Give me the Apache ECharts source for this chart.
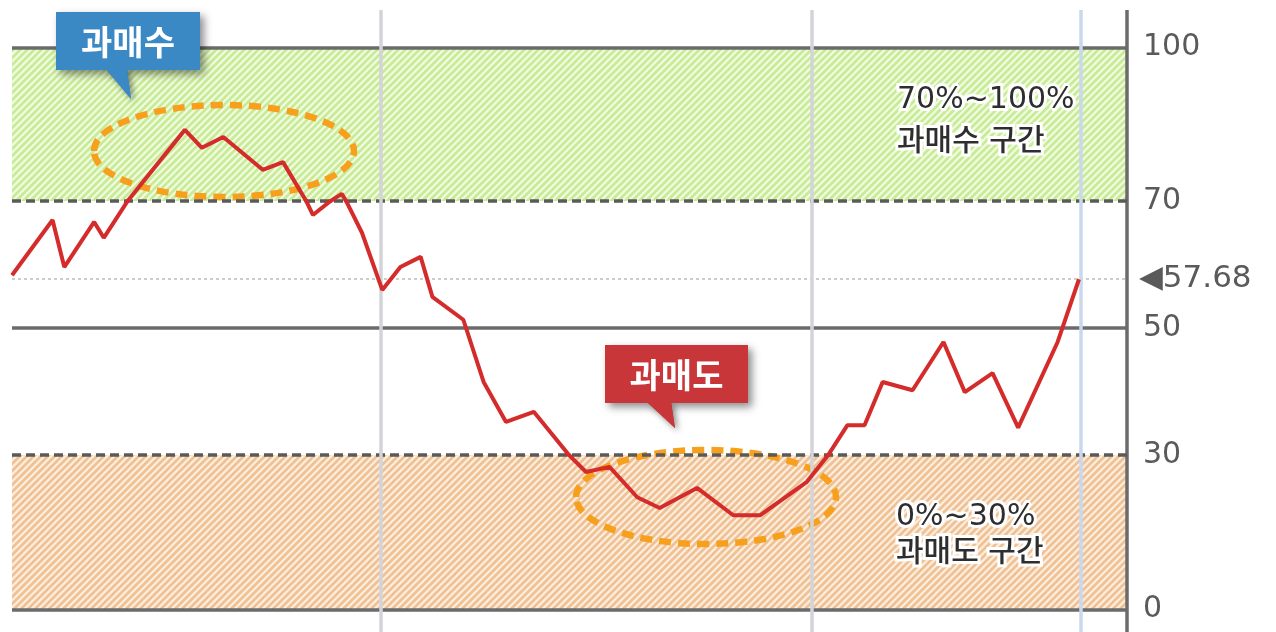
<!DOCTYPE html>
<html><head><meta charset="utf-8">
<script src="https://cdn.jsdelivr.net/npm/echarts@6/dist/echarts.min.js"></script>
<style>html,body{margin:0;padding:0;background:#fff}#c{width:1276px;height:632px}</style>
</head><body><div id="c"></div>
<script>
// ---- data ----
const dayIndex = [0, 3.8, 4.9, 7.7, 8.6, 16.2, 17.8, 19.8, 23.5, 25.4, 28.2, 30.9, 32.8, 34.7, 36.4, 38.3, 39.4, 42.3, 44.2, 46.3, 48.9, 53.8, 56.0, 58.6, 60.7, 64.2, 67.6, 70.1, 74.5, 78.3, 79.9, 81.6, 84.4, 87.3, 89.3, 91.9, 94.3, 98.0, 100];
const rsiValues = [58.3, 67.0, 59.6, 66.7, 64.2, 83.9, 80.4, 82.5, 76.1, 77.6, 67.8, 71.4, 65.0, 56.0, 59.6, 61.2, 54.9, 51.3, 41.5, 35.2, 36.8, 26.7, 27.7, 21.8, 19.7, 23.6, 18.3, 18.3, 24.8, 34.7, 34.7, 41.5, 40.2, 47.8, 39.9, 42.9, 34.3, 47.8, 57.68];
const monthDividers = [34.6, 75.0, 100.2];
const overboughtZone = [70, 100];
const oversoldZone = [0, 30];
const yTickLabels = [0, 30, 50, 70, 100];
const overboughtText = ['70%~100%', '과매수 구간'];
const oversoldText = ['0%~30%', '과매도 구간'];
const calloutHigh = '과매수';
const calloutLow = '과매도';
const xMax = 104.5;

const lastValue = rsiValues[rsiValues.length - 1];
const lineData = dayIndex.map((d, i) => [d, rsiValues[i]]);

function hatch(bg, fg) {
  const s = 7;
  const c = document.createElement('canvas');
  c.width = s; c.height = s;
  const g = c.getContext('2d');
  g.fillStyle = bg; g.fillRect(0, 0, s, s);
  g.strokeStyle = fg; g.lineWidth = 2.8;
  g.beginPath();
  for (let k = -1; k <= 1; k++) {
    g.moveTo(k * s - 1, s + 1);
    g.lineTo(k * s + s + 1, -1);
  }
  g.stroke();
  return c;
}
const greenPat = { image: hatch('#f2fbe4', '#c8ec96'), repeat: 'repeat' };
const orangePat = { image: hatch('#fdeedd', '#efc196'), repeat: 'repeat' };

const L = 12, R = 149;
const grids = [
  { left: L, right: R, top: 47.5, height: 153.5 },  // 70..100
  { left: L, right: R, top: 201, height: 254 },     // 30..70
  { left: L, right: R, top: 455, height: 154.5 },   // 0..30
  { left: L, right: R, top: 10, height: 622 }       // full height for dividers
];
const labelStyle = { color: '#5a5a5a', fontSize: 30, fontFamily: 'DejaVu Sans', margin: 16 };
const xAxes = grids.map((g, i) => ({ type: 'value', gridIndex: i, min: 0, max: xMax, show: false }));
const yAxes = [
  { type: 'value', gridIndex: 0, position: 'right', min: overboughtZone[0], max: overboughtZone[1], interval: 30,
    axisLine: { show: false }, axisTick: { show: false }, splitLine: { show: false }, axisLabel: labelStyle },
  { type: 'value', gridIndex: 1, position: 'right', min: oversoldZone[1], max: overboughtZone[0], interval: 20,
    axisLine: { show: false }, axisTick: { show: false }, splitLine: { show: false },
    axisLabel: Object.assign({ showMinLabel: false, showMaxLabel: false }, labelStyle) },
  { type: 'value', gridIndex: 2, position: 'right', min: oversoldZone[0], max: oversoldZone[1], interval: 30,
    axisLine: { show: false }, axisTick: { show: false }, splitLine: { show: false }, axisLabel: labelStyle },
  { type: 'value', gridIndex: 3, min: 0, max: 1, show: false }
];

const solid = { color: '#6b6b6b', width: 3.5, type: 'solid' };
const dashed = { color: '#5a5a5a', width: 3.5, type: [9, 5] };
const none = ['none', 'none'];

const series = [
  // hatch zones
  { type: 'line', xAxisIndex: 0, yAxisIndex: 0, data: [], z: 1, silent: true,
    markArea: { silent: true, itemStyle: { color: greenPat }, data: [[{ yAxis: overboughtZone[0] }, { yAxis: overboughtZone[1] }]] } },
  { type: 'line', xAxisIndex: 2, yAxisIndex: 2, data: [], z: 1, silent: true,
    markArea: { silent: true, itemStyle: { color: orangePat }, data: [[{ yAxis: oversoldZone[0] }, { yAxis: oversoldZone[1] }]] } },
  // horizontal level lines
  { type: 'line', xAxisIndex: 0, yAxisIndex: 0, data: [], z: 2, silent: true, clip: false,
    markLine: { silent: true, symbol: none, label: { show: false }, data: [{ yAxis: yTickLabels[4], lineStyle: solid }] } },
  { type: 'line', xAxisIndex: 1, yAxisIndex: 1, data: [], z: 2, silent: true, clip: false,
    markLine: { silent: true, symbol: none, label: { show: false }, data: [
      { yAxis: yTickLabels[3], lineStyle: dashed },
      { yAxis: yTickLabels[2], lineStyle: solid },
      { yAxis: yTickLabels[1], lineStyle: dashed },
      { yAxis: lastValue, lineStyle: { color: '#bdbdbd', width: 1.5, type: [3, 3] },
        label: { show: true, position: 'end', distance: 12, formatter: '◀' + lastValue,
                 color: '#5a5a5a', fontSize: 31, fontFamily: 'DejaVu Sans' } }
    ] } },
  { type: 'line', xAxisIndex: 2, yAxisIndex: 2, data: [], z: 2, silent: true, clip: false,
    markLine: { silent: true, symbol: none, label: { show: false }, data: [{ yAxis: yTickLabels[0], lineStyle: solid }] } },
  // vertical dividers
  { type: 'line', xAxisIndex: 3, yAxisIndex: 3, data: [], z: 3, silent: true, clip: false,
    markLine: { silent: true, symbol: none, label: { show: false }, data: monthDividers.map((x, i) => ({
      xAxis: x, lineStyle: { color: i === monthDividers.length - 1 ? '#c9d8ec' : '#d3d3da', width: 3.5, type: 'solid' } })) } }
];
// the RSI line, drawn once per vertical band so each band uses its own scale
for (let i = 0; i < 3; i++) {
  series.push({ type: 'line', xAxisIndex: i, yAxisIndex: i, data: lineData, z: 10, clip: true,
    symbol: 'none', silent: true, lineStyle: { color: '#d42b2b', width: 4 }, animation: false });
}

const ellStyle = { fill: null, stroke: '#f7a01e', lineWidth: 6.5, lineDash: [12, 7] };
const haloText = (txt, x, y) => ({ type: 'text', z: 20, style: { text: txt, x: x, y: y, verticalAlign: 'middle',
  font: '500 30px "DejaVu Sans", "Noto Sans CJK KR"', fill: '#2e2e2e', stroke: '#fff', lineWidth: 6, strokeFirst: true } });
const callout = (txt, x, y, w, h, tail, color) => ({
  type: 'group', z: 20, children: [
    { type: 'polygon', z: 20, shape: { points: tail }, style: { fill: color, shadowBlur: 6, shadowOffsetX: 3, shadowOffsetY: 3, shadowColor: 'rgba(0,0,0,0.45)' } },
    { type: 'rect', z: 20, shape: { x: x, y: y, width: w, height: h }, style: { fill: color, shadowBlur: 8, shadowOffsetX: 4, shadowOffsetY: 4, shadowColor: 'rgba(0,0,0,0.45)' } },
    { type: 'polygon', z: 21, shape: { points: tail }, style: { fill: color } },
    { type: 'text', z: 22, style: { text: txt, x: x + w / 2, y: y + h / 2 + 1, align: 'center', verticalAlign: 'middle',
      font: 'bold 34px "Noto Sans CJK KR"', fill: '#fff' } }
  ]
});

const chart = echarts.init(document.getElementById('c'), null, { renderer: 'canvas' });
chart.setOption({
  animation: false,
  backgroundColor: '#fff',
  grid: grids,
  xAxis: xAxes,
  yAxis: yAxes,
  series: series,
  graphic: [
    { type: 'line', z: 4, shape: { x1: 1127, y1: 10, x2: 1127, y2: 632 }, style: { stroke: '#6b6b6b', lineWidth: 3.5 } },
    { type: 'ellipse', z: 5, shape: { cx: 224, cy: 151, rx: 130, ry: 46 }, style: ellStyle },
    { type: 'ellipse', z: 5, shape: { cx: 706, cy: 497, rx: 130, ry: 47 }, style: ellStyle },
    callout(calloutHigh, 56, 12, 144, 58, [[106, 69], [127, 69], [131, 99]], '#3a89c5'),
    callout(calloutLow, 605, 345, 143, 58, [[647, 402], [671, 402], [675, 428]], '#c9363a'),
    haloText(overboughtText[0], 897, 100), haloText(overboughtText[1], 897, 142),
    haloText(oversoldText[0], 896, 517), haloText(oversoldText[1], 896, 553)
  ]
});
</script></body></html>
